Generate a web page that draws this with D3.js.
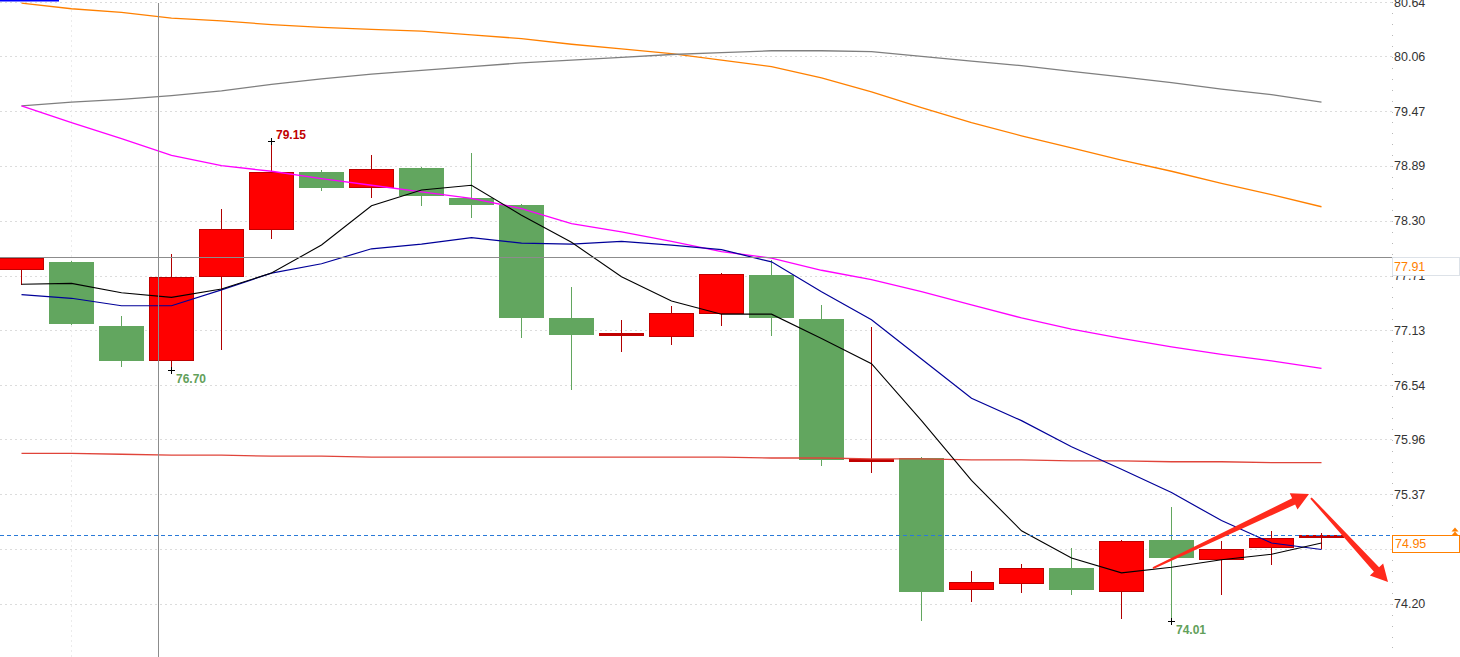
<!DOCTYPE html>
<html><head><meta charset="utf-8">
<script src="https://cdn.jsdelivr.net/npm/d3@7/dist/d3.min.js"></script>
<style>html,body{margin:0;padding:0;background:#fff;overflow:hidden}text{font-family:"Liberation Sans",Arial,sans-serif}</style>
</head><body><svg id="c" width="1460" height="657"></svg>
<script>
// ---- data ----
const periods = d3.range(1, 28);
const opens  = [77.78,77.86,77.17,76.81,77.71,78.21,78.82,78.66,78.86,78.54,78.47,77.26,77.08,77.07,77.31,77.72,77.25,75.73,75.76,74.36,74.42,74.58,74.34,74.88,74.68,74.81,74.93];
const closes = [77.90,77.19,76.80,77.70,78.21,78.82,78.65,78.85,78.56,78.47,77.26,77.08,77.10,77.31,77.73,77.26,75.74,75.75,74.33,74.43,74.58,74.35,74.87,74.69,74.79,74.90,74.94];
const highs  = [77.92,77.88,77.29,77.95,78.44,79.15,78.85,79.02,78.89,79.04,78.49,77.60,77.25,77.40,77.75,77.89,77.41,77.17,75.78,74.56,74.64,74.81,74.89,75.25,74.88,74.99,74.97];
const lows   = [77.62,77.19,76.75,76.70,76.93,78.12,78.63,78.55,78.47,78.34,77.06,76.50,76.91,76.98,77.18,77.08,75.69,75.61,74.03,74.23,74.33,74.30,74.05,74.01,74.30,74.63,74.80];

const maBlack   = [77.62,77.63,77.53,77.48,77.57,77.74,78.04,78.46,78.63,78.68,78.36,78.07,77.70,77.44,77.30,77.30,77.04,76.77,76.16,75.52,74.98,74.69,74.53,74.59,74.67,74.73,74.85];
const maBlue    = [77.51,77.47,77.39,77.39,77.56,77.74,77.84,78.00,78.05,78.12,78.06,78.05,78.08,78.04,77.99,77.86,77.54,77.24,76.82,76.40,76.16,75.88,75.64,75.39,75.09,74.85,74.78];
const maMagenta = [79.53,79.35,79.18,79.00,78.89,78.83,78.75,78.68,78.61,78.54,78.43,78.27,78.18,78.08,77.97,77.90,77.77,77.67,77.54,77.40,77.26,77.14,77.04,76.95,76.87,76.80,76.72];
const maGray    = [79.53,79.57,79.60,79.64,79.69,79.76,79.82,79.87,79.91,79.95,79.99,80.02,80.05,80.08,80.10,80.12,80.12,80.11,80.06,80.01,79.96,79.90,79.84,79.78,79.71,79.65,79.57];
const maOrange  = [80.63,80.57,80.53,80.47,80.44,80.40,80.37,80.35,80.33,80.29,80.25,80.19,80.14,80.09,80.02,79.95,79.83,79.68,79.51,79.35,79.21,79.08,78.95,78.83,78.70,78.58,78.45];
const maRed     = [75.81,75.81,75.80,75.79,75.79,75.78,75.78,75.77,75.77,75.77,75.77,75.77,75.77,75.77,75.77,75.76,75.76,75.75,75.75,75.74,75.74,75.73,75.73,75.72,75.72,75.71,75.71];

const gridValues = [80.64,80.06,79.47,78.89,78.30,77.71,77.13,76.54,75.96,75.37,74.79,74.20];
// 74.79 sits under the last-price box in the reference, so it shows no label
const tickLabels = ["80.64","80.06","79.47","78.89","78.30","77.71","77.13","76.54","75.96","75.37","74.20"];
const refLevel = 77.91;          // gray horizontal level
const refLevelLabel = "77.91";
const lastPriceLabel = "74.95";
const crosshairIndex = 2.73;
const vGridIndex = [1];
const highMark = {i: 5, v: 79.15, text: "79.15"};
const lowMarks = [{i: 3, v: 76.70, text: "76.70"}, {i: 23, v: 74.01, text: "74.01"}];
const arrows = [
  {from: [22.63, 74.58], to: [25.75, 75.374]},
  {from: [25.79, 75.331], to: [27.33, 74.432]}
];
const topBlueSeg = [[-0.43, 80.658], [0.75, 80.658]];

// ---- scales ----
const svg = d3.select("#c");
const x = d3.scaleLinear().domain([0, 26]).range([21.5, 1321.5]);
const y = d3.scaleLinear().domain([74.20, 80.64]).range([603.7, 2.2]);
const axisX = 1392;
const H = 657;
const py = v => Math.round(y(v)) + 0.5;

// grid
const gGrid = svg.append("g");
gridValues.forEach(v => {
  gGrid.append("line").attr("x1", 0).attr("x2", axisX).attr("y1", py(v)).attr("y2", py(v))
    .attr("stroke", "#dcdcdc").attr("stroke-dasharray", "2,3");
});
vGridIndex.forEach(i => {
  gGrid.append("line").attr("x1", x(i)).attr("x2", x(i)).attr("y1", 0).attr("y2", H)
    .attr("stroke", "#ececec").attr("stroke-dasharray", "2,3");
});

// axis dots (minor ticks)
const step = (80.64 - 74.20) / 11 / 5;
d3.range(-6, 62).forEach(k => {
  const yy = Math.round(y(74.20 + k * step));
  if (yy >= 0 && yy < H) svg.append("rect").attr("x", axisX).attr("y", yy).attr("width", 1).attr("height", 1).attr("fill", "#b8b8b8");
});

// candles
const gC = svg.append("g").attr("shape-rendering", "crispEdges");
periods.forEach((p, i) => {
  const up = closes[i] >= opens[i];
  const cx = x(i);
  gC.append("line").attr("x1", cx).attr("x2", cx).attr("y1", py(highs[i])).attr("y2", py(lows[i]))
    .attr("stroke", up ? "#b00000" : "#62a65f").attr("stroke-width", 1);
  const top = Math.round(y(Math.max(opens[i], closes[i])));
  const bot = Math.round(y(Math.min(opens[i], closes[i])));
  const h = Math.max(2, bot - top);
  if (up) {
    gC.append("rect").attr("x", cx - 22).attr("y", top + 0.5).attr("width", 44).attr("height", h)
      .attr("fill", h <= 2 ? "#c00000" : "#ff0000").attr("stroke", "#c00000").attr("stroke-width", 1);
  } else {
    gC.append("rect").attr("x", cx - 22.5).attr("y", top).attr("width", 45).attr("height", h)
      .attr("fill", "#62a65f");
  }
});

// moving average lines
const line = d3.line().x((d, i) => x(i)).y(d => y(d));
const series = [
  {d: maRed, c: "#e0443a", w: 1.3},
  {d: maOrange, c: "#ff8000", w: 1.3},
  {d: maGray, c: "#7f7f7f", w: 1.3},
  {d: maMagenta, c: "#ff00ff", w: 1.3},
  {d: maBlue, c: "#000099", w: 1.2},
  {d: maBlack, c: "#000000", w: 1.1}
];
series.forEach(s => {
  svg.append("path").attr("d", line(s.d)).attr("fill", "none").attr("stroke", s.c).attr("stroke-width", s.w);
});
svg.append("path").attr("d", d3.line().x(d => x(d[0])).y(d => y(d[1]))(topBlueSeg))
  .attr("stroke", "#0000ff").attr("stroke-width", 2).attr("fill", "none");

// reference level line and crosshair
svg.append("line").attr("x1", 0).attr("x2", axisX).attr("y1", py(refLevel)).attr("y2", py(refLevel))
  .attr("stroke", "#8c8c8c").attr("stroke-width", 1).attr("shape-rendering", "crispEdges");
svg.append("line").attr("x1", Math.round(x(crosshairIndex)) + 0.5).attr("x2", Math.round(x(crosshairIndex)) + 0.5)
  .attr("y1", 3).attr("y2", H).attr("stroke", "#8c8c8c").attr("stroke-width", 1).attr("shape-rendering", "crispEdges");

// last price dashed line
const lastV = closes[closes.length - 1];
svg.append("line").attr("x1", 0).attr("x2", axisX).attr("y1", py(lastV)).attr("y2", py(lastV))
  .attr("stroke", "#2a7ad8").attr("stroke-width", 1).attr("stroke-dasharray", "4,3").attr("shape-rendering", "crispEdges");

// y axis labels via d3 axis
const ax = svg.append("g").attr("transform", `translate(${axisX},0)`)
  .call(d3.axisRight(y).tickValues(tickLabels.map(Number)).tickFormat((d, i) => tickLabels[i]).tickSize(0).tickPadding(2));
ax.select(".domain").remove();
ax.selectAll("text").attr("fill", "#333").style("font-size", "12.5px").style("font-family", '"Liberation Sans",Arial,sans-serif');

// reference level box
const ry = py(refLevel);
svg.append("rect").attr("x", axisX + 0.5).attr("y", ry).attr("width", 67).attr("height", 18)
  .attr("fill", "#fff").attr("stroke", "#dde2e8");
svg.append("text").attr("x", axisX + 2).attr("y", ry + 9).attr("dy", "0.35em").attr("fill", "#ff7f00")
  .style("font-size", "12.5px").text(refLevelLabel);

// last price box
const ly = py(lastV);
svg.append("rect").attr("x", axisX + 0.5).attr("y", ly).attr("width", 67).attr("height", 17)
  .attr("fill", "#fff").attr("stroke", "#ff8000");
svg.append("text").attr("x", axisX + 3).attr("y", ly + 8.5).attr("dy", "0.35em").attr("fill", "#ff8000")
  .style("font-size", "12.5px").text(lastPriceLabel);
svg.append("path").attr("d", `M1451.5,${ly-4}L1455,${ly-8}L1458.5,${ly-4}ZM1451.5,${ly}L1455,${ly-4}L1458.5,${ly}Z`).attr("fill", "#ff8000");

// high / low markers
function cross(cx, cy) {
  svg.append("path").attr("d", `M${cx-3.5},${cy}H${cx+3.5}M${cx},${cy-3.5}V${cy+3.5}`)
    .attr("stroke", "#000").attr("stroke-width", 1).attr("shape-rendering", "crispEdges");
}
cross(x(highMark.i), py(highMark.v));
svg.append("text").attr("x", x(highMark.i) + 4.5).attr("y", py(highMark.v) - 3).attr("fill", "#c00000")
  .style("font-size", "12px").style("font-weight", "bold").text(highMark.text);
lowMarks.forEach(m => {
  cross(x(m.i), py(m.v));
  svg.append("text").attr("x", x(m.i) + 4.5).attr("y", py(m.v) + 12).attr("fill", "#62a05a")
    .style("font-size", "12px").style("font-weight", "bold").text(m.text);
});

// hand-drawn arrows
arrows.forEach(a => {
  const x0 = x(a.from[0]), y0 = y(a.from[1]), x1 = x(a.to[0]), y1 = y(a.to[1]);
  const dx = x1 - x0, dy = y1 - y0, L = Math.hypot(dx, dy);
  const ux = dx / L, uy = dy / L, nx = -uy, ny = ux;
  const hl = 17, hw = 9, tw = 1, sw = 3.5;
  const bx = x1 - ux * hl, by = y1 - uy * hl;
  const pts = [
    [x0 + nx * tw, y0 + ny * tw], [bx + nx * sw, by + ny * sw], [bx + nx * hw, by + ny * hw], [x1, y1],
    [bx - nx * hw, by - ny * hw], [bx - nx * sw, by - ny * sw], [x0 - nx * tw, y0 - ny * tw]
  ];
  svg.append("path").attr("d", "M" + pts.map(p => p.join(",")).join("L") + "Z").attr("fill", "#ff2a1c");
});
</script></body></html>
